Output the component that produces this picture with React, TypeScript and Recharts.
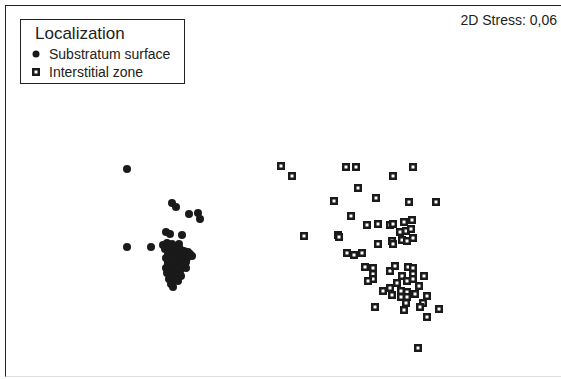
import * as React from 'react';
import { ScatterChart, Scatter, XAxis, YAxis } from 'recharts';

// NMDS ordination, MDS1 / MDS2 scores
const surfaceX = [
  -1.53, -1.08, -1.04, -0.91, -0.82, -0.80, -1.14, -1.10, -0.98, -1.53, -1.29,
  -1.17, -1.13, -1.08, -1.04, -1.01, -1.15, -1.10, -1.05, -1.00, -0.96, -0.92,
  -0.90, -0.88, -1.12, -1.07, -1.02, -0.97, -0.93, -1.14, -1.09, -1.04, -0.99,
  -0.94, -1.12, -1.07, -1.02, -0.97, -0.94, -1.14, -1.10, -1.05, -1.00, -1.13,
  -1.08, -1.03, -0.99, -1.11, -1.06, -1.02, -1.09, -1.07, -1.12, -1.05, -1.01,
];
const surfaceY = [
  0.31, -0.03, -0.07, -0.14, -0.13, -0.19, -0.32, -0.34, -0.35, -0.47, -0.47,
  -0.45, -0.43, -0.44, -0.46, -0.44, -0.49, -0.50, -0.50, -0.49, -0.51, -0.52,
  -0.54, -0.56, -0.54, -0.55, -0.55, -0.56, -0.58, -0.58, -0.60, -0.60, -0.61,
  -0.62, -0.64, -0.65, -0.65, -0.66, -0.68, -0.68, -0.70, -0.70, -0.71, -0.73,
  -0.75, -0.76, -0.76, -0.79, -0.80, -0.81, -0.84, -0.87, -0.62, -0.58, -0.68,
];

const interstitialX = [
  0.01, 0.12, 0.66, 0.76, 0.78, 0.54, 0.96, 0.71, 1.33, 1.13, 1.29, 1.56,
  0.24, 0.58, 0.87, 0.98, 1.10, 1.13, 1.24, 1.32, 1.20, 1.26, 1.31, 1.22,
  1.27, 1.33, 1.12, 1.13, 0.98, 0.59, 0.67, 0.74, 0.82, 0.85, 0.93, 0.93,
  0.93, 0.88, 1.10, 1.15, 1.28, 1.33, 1.22, 1.33, 1.44, 1.27, 1.33, 1.17,
  1.39, 1.10, 1.03, 1.12, 1.21, 1.27, 1.21, 1.27, 1.35, 1.47, 1.26, 1.43,
  1.40, 0.95, 1.24, 1.59, 1.47, 1.38,
];
const interstitialY = [
  0.34, 0.24, 0.33, 0.33, 0.12, -0.01, 0.02, -0.16, 0.33, 0.24, -0.02, -0.02,
  -0.36, -0.35, -0.25, -0.24, -0.25, -0.24, -0.22, -0.20, -0.32, -0.31, -0.29, -0.40,
  -0.41, -0.38, -0.41, -0.44, -0.44, -0.37, -0.53, -0.55, -0.53, -0.67, -0.68, -0.74,
  -0.79, -0.81, -0.71, -0.66, -0.67, -0.68, -0.76, -0.74, -0.76, -0.81, -0.79, -0.83,
  -0.86, -0.88, -0.91, -0.95, -0.91, -0.92, -0.97, -0.97, -0.94, -0.96, -1.03, -1.03,
  -1.07, -1.07, -1.10, -1.09, -1.17, -1.48,
];

const stressLabel = '2D Stress: 0,06';
const legendTitle = 'Localization';
const groupNames = ['Substratum surface', 'Interstitial zone'];

const surface = surfaceX.map((x, i) => ({ x, y: surfaceY[i] }));
const interstitial = interstitialX.map((x, i) => ({ x, y: interstitialY[i] }));

const font = '"Liberation Sans", Arial, sans-serif';

const Dot = (props: any) => <circle cx={props.cx} cy={props.cy} r={4} fill="#1a1a1a" />;

const Box = (props: any) => (
  <g>
    <rect x={props.cx - 4} y={props.cy - 4} width={8} height={8} fill="#1a1a1a" />
    <rect x={props.cx - 1.5} y={props.cy - 1.5} width={3} height={3} fill="#fff" />
  </g>
);

export default function App() {
  return (
    <div style={{ position: 'absolute', left: 0, top: 0, width: 561, height: 379, background: '#fff', fontFamily: font }}>
      <div style={{
        position: 'absolute', left: 5, top: 5, width: 556, height: 370,
        borderLeft: '1.5px solid #222', borderTop: '1.5px solid #222', borderBottom: '1px solid #ddd'
      }} />
      <ScatterChart width={561} height={379} margin={{ top: 0, right: 0, bottom: 0, left: 0 }}>
        <XAxis type="number" dataKey="x" hide domain={[-2.8, 2.81]} allowDataOverflow />
        <YAxis type="number" dataKey="y" hide domain={[-1.79, 2.0]} allowDataOverflow />
        <Scatter data={surface} shape={Dot} isAnimationActive={false} />
        <Scatter data={interstitial} shape={Box} isAnimationActive={false} />
      </ScatterChart>
      <div style={{ position: 'absolute', right: 4, top: 12, fontSize: 14, color: '#222' }}>{stressLabel}</div>
      <div style={{
        position: 'absolute', left: 20, top: 19, width: 165, height: 65,
        border: '1px solid #222', boxSizing: 'border-box', color: '#222'
      }}>
        <div style={{ position: 'absolute', left: 14, top: 4, fontSize: 17 }}>{legendTitle}</div>
        <svg style={{ position: 'absolute', left: 0, top: 0 }} width={164} height={64}>
          <circle cx={15} cy={34} r={3.5} fill="#1a1a1a" />
          <rect x={11} y={48} width={8} height={8} fill="#1a1a1a" />
          <rect x={13.5} y={50.5} width={3} height={3} fill="#fff" />
        </svg>
        <div style={{ position: 'absolute', left: 28, top: 26, fontSize: 14 }}>{groupNames[0]}</div>
        <div style={{ position: 'absolute', left: 28, top: 44, fontSize: 14 }}>{groupNames[1]}</div>
      </div>
    </div>
  );
}
